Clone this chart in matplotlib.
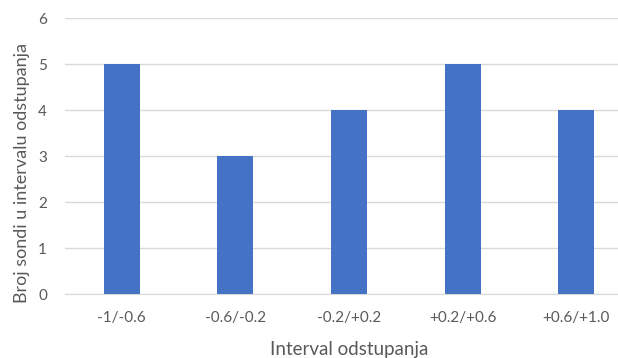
#!/usr/bin/env python3

from matplotlib import pyplot as plt

# Chart data
categories = ['-1/-0.6', '-0.6/-0.2', '-0.2/+0.2', '+0.2/+0.6', '+0.6/+1.0']
counts = [5, 3, 4, 5, 4]
y_ticks = [0, 1, 2, 3, 4, 5, 6]

out_file = 'out.png'
text_color = '#595959'

plt.rcParams['font.family'] = ['Lato', 'DejaVu Sans']

fig = plt.figure(figsize=(6.18, 3.58), dpi=100)
# plot area runs a little past the right edge, as in the cropped original
ax = fig.add_axes([65 / 618, 1 - 294 / 358, 568 / 618, 276 / 358])

ax.bar(range(len(categories)), counts, width=0.317, color='#4472C4', zorder=3)

ax.set_xlim(-0.5, len(categories) - 0.5)
ax.set_ylim(0, 6)
ax.set_yticks(y_ticks)
ax.set_xticks(range(len(categories)))
ax.set_xticklabels(categories)

# Excel-like look
ax.grid(axis='y', color='#D9D9D9', linewidth=1, zorder=0)
for side in ['top', 'right', 'left']:
    ax.spines[side].set_visible(False)
ax.spines['bottom'].set_color('#D9D9D9')
ax.tick_params(axis='both', length=0, colors=text_color, labelsize=11)
ax.tick_params(axis='x', pad=12)
ax.tick_params(axis='y', pad=13)

ax.set_xlabel('Interval odstupanja', color=text_color, fontsize=13.5, labelpad=11.5)
ax.set_ylabel('Broj sondi u intervalu odstupanja', color=text_color, fontsize=13)
ax.yaxis.set_label_coords(-0.062, 0.44)

plt.savefig(out_file, dpi=100)
